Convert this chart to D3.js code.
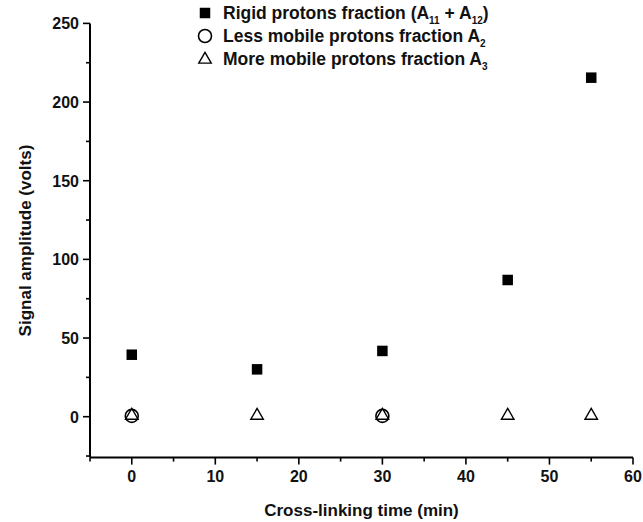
<!DOCTYPE html>
<html>
<head>
<meta charset="utf-8">
<script src="https://cdn.jsdelivr.net/npm/d3@7"></script>
<style>
  body { margin: 0; background: #fff; }
  svg text { font-family: "Liberation Sans", Arial, sans-serif; font-weight: bold; fill: #111; }
</style>
</head>
<body>
<svg id="chart" width="643" height="522"></svg>
<script>
// data
const times = [0, 15, 30, 45, 55];
const rigid = [39.4, 30.1, 41.8, 86.9, 215.5];   // A11 + A12
const lessTimes = [0, 30];
const lessMobile = [0.5, 0.5];                   // A2
const moreMobile = [1, 1, 1, 1, 1];              // A3
const xTicks = [0, 10, 20, 30, 40, 50, 60];
const yTicks = [0, 50, 100, 150, 200, 250];

const svg = d3.select("#chart");

const x = d3.scaleLinear().domain([-5, 60]).range([90, 633]);
const y = d3.scaleLinear().domain([-26, 250]).range([457.6, 23.4]);

// x axis
const xAxis = svg.append("g").attr("transform", `translate(0,${y(-26)})`);
xAxis.append("line").attr("x1", x(-5)).attr("x2", x(60)).attr("stroke", "#000").attr("stroke-width", 2);
xAxis.selectAll(".minor").data(d3.range(-5, 61, 5).filter(v => v % 10 !== 0))
  .join("line").attr("x1", d => x(d)).attr("x2", d => x(d)).attr("y1", 0).attr("y2", 4)
  .attr("stroke", "#000").attr("stroke-width", 1.6);
xAxis.selectAll(".major").data(xTicks)
  .join("line").attr("x1", d => x(d)).attr("x2", d => x(d)).attr("y1", 0).attr("y2", 7)
  .attr("stroke", "#000").attr("stroke-width", 1.6);
xAxis.selectAll("text").data(xTicks)
  .join("text").attr("x", d => x(d)).attr("y", 24).attr("text-anchor", "middle")
  .style("font-size", "16px").text(d => d);

// y axis
const yAxis = svg.append("g").attr("transform", `translate(${x(-5)},0)`);
yAxis.append("line").attr("y1", y(-26)).attr("y2", y(250)).attr("stroke", "#000").attr("stroke-width", 2);
yAxis.selectAll(".minor").data([-25, 25, 75, 125, 175, 225])
  .join("line").attr("y1", d => y(d)).attr("y2", d => y(d)).attr("x1", 0).attr("x2", -4)
  .attr("stroke", "#000").attr("stroke-width", 1.6);
yAxis.selectAll(".major").data(yTicks)
  .join("line").attr("y1", d => y(d)).attr("y2", d => y(d)).attr("x1", 0).attr("x2", -7)
  .attr("stroke", "#000").attr("stroke-width", 1.6);
yAxis.selectAll("text").data(yTicks)
  .join("text").attr("x", -11).attr("y", d => y(d) + 6).attr("text-anchor", "end")
  .style("font-size", "16px").text(d => d);

// axis titles
svg.append("text").attr("x", x(27.5)).attr("y", 516).attr("text-anchor", "middle")
  .style("font-size", "17px").text("Cross-linking time (min)");
svg.append("text").attr("transform", `translate(31,${y(112)}) rotate(-90)`).attr("text-anchor", "middle")
  .style("font-size", "17px").text("Signal amplitude (volts)");

// markers
const sq = 10.5, r = 6.5;
function triangle(cx, cy) {
  const s = 12.5, h = s * 0.866;
  return `M${cx},${cy - h * 0.62}L${cx + s / 2},${cy + h * 0.38}L${cx - s / 2},${cy + h * 0.38}Z`;
}

svg.append("g").selectAll("rect").data(times)
  .join("rect").attr("x", (d) => x(d) - sq / 2).attr("y", (d, i) => y(rigid[i]) - sq / 2)
  .attr("width", sq).attr("height", sq).attr("fill", "#000");

svg.append("g").selectAll("circle").data(lessTimes)
  .join("circle").attr("cx", d => x(d)).attr("cy", (d, i) => y(lessMobile[i]))
  .attr("r", r).attr("fill", "none").attr("stroke", "#000").attr("stroke-width", 1.6);

svg.append("g").selectAll("path").data(times)
  .join("path").attr("d", (d, i) => triangle(x(d), y(moreMobile[i])))
  .attr("fill", "none").attr("stroke", "#000").attr("stroke-width", 1.4);

// legend
const leg = svg.append("g");
const lx = 205, ly = [13, 36, 59];
leg.append("rect").attr("x", lx - sq / 2).attr("y", ly[0] - sq / 2).attr("width", sq).attr("height", sq).attr("fill", "#000");
leg.append("circle").attr("cx", lx).attr("cy", ly[1]).attr("r", r).attr("fill", "none").attr("stroke", "#000").attr("stroke-width", 1.6);
leg.append("path").attr("d", triangle(lx, ly[2])).attr("fill", "none").attr("stroke", "#000").attr("stroke-width", 1.4);

const tx = 223;
function legendText(yy, parts) {
  const t = leg.append("text").attr("x", tx).attr("y", yy + 6).style("font-size", "17.5px");
  parts.forEach(p => {
    const s = t.append("tspan").text(p.t);
    if (p.sub) s.style("font-size", "10px").attr("dy", 4.5);
    else if (p.back) s.attr("dy", -4.5);
  });
}
legendText(ly[0], [{t: "Rigid protons fraction (A"}, {t: "11", sub: true}, {t: " + A", back: true}, {t: "12", sub: true}, {t: ")", back: true}]);
legendText(ly[1], [{t: "Less mobile protons fraction A"}, {t: "2", sub: true}]);
legendText(ly[2], [{t: "More mobile protons fraction A"}, {t: "3", sub: true}]);
</script>
</body>
</html>
